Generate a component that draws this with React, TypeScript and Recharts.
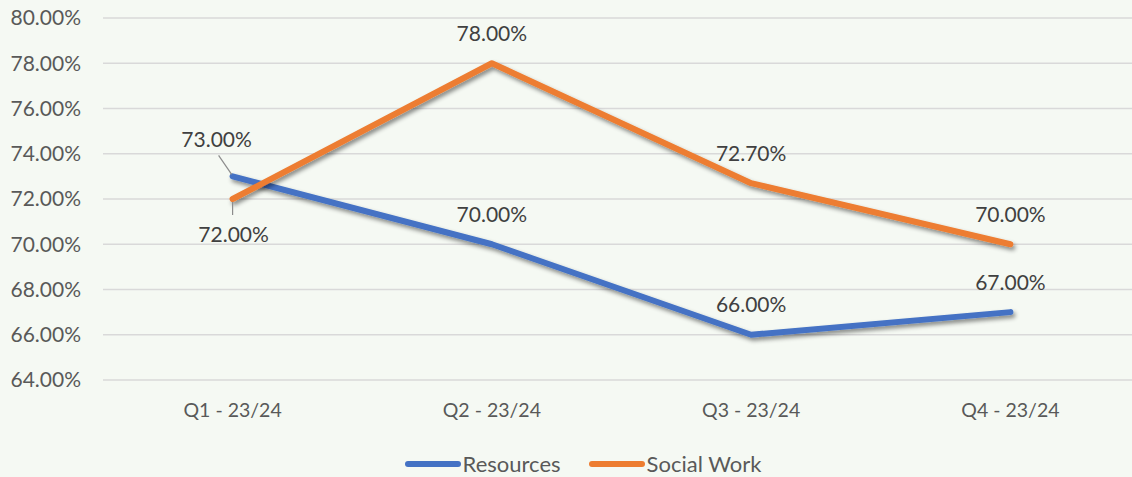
import React from 'react';
import { LineChart, Line, XAxis, YAxis, CartesianGrid, Legend, LabelList } from 'recharts';

const quarters = ['Q1 - 23/24', 'Q2 - 23/24', 'Q3 - 23/24', 'Q4 - 23/24'];
const resources = [73.0, 70.0, 66.0, 67.0];
const socialWork = [72.0, 78.0, 72.7, 70.0];
const yTicks = [64, 66, 68, 70, 72, 74, 76, 78, 80];

const BLUE = '#4472C4';
const ORANGE = '#ED7D31';
const FONT = 'Lato, "Open Sans", sans-serif';

const data = quarters.map((q, i) => ({ q, resources: resources[i], socialWork: socialWork[i] }));

const fmt = (v: number) => `${v.toFixed(2)}%`;

const ResourcesLabel = (props: any) => {
  const { x, y, value, index } = props;
  if (index === 0) {
    // first point gets a leader line up-left
    return (
      <g>
        <line x1={x - 1} y1={y - 2} x2={x - 14} y2={y - 21} stroke="#8c8c8c" strokeWidth={1.2} />
        <text x={x - 16} y={y - 38} textAnchor="middle" dominantBaseline="central" fill="#404040" fontSize={21} fontFamily={FONT}>
          {fmt(value)}
        </text>
      </g>
    );
  }
  return (
    <text x={x} y={y - 31} textAnchor="middle" dominantBaseline="central" fill="#404040" fontSize={21} fontFamily={FONT}>
      {fmt(value)}
    </text>
  );
};

const SocialLabel = (props: any) => {
  const { x, y, value, index } = props;
  if (index === 0) {
    return (
      <g>
        <line x1={x} y1={y + 3} x2={x} y2={y + 16} stroke="#8c8c8c" strokeWidth={1.2} />
        <text x={x + 1} y={y + 34} textAnchor="middle" dominantBaseline="central" fill="#404040" fontSize={21} fontFamily={FONT}>
          {fmt(value)}
        </text>
      </g>
    );
  }
  return (
    <text x={x} y={y - 31} textAnchor="middle" dominantBaseline="central" fill="#404040" fontSize={21} fontFamily={FONT}>
      {fmt(value)}
    </text>
  );
};

const LegendContent = () => (
  <div style={{ display: 'flex', justifyContent: 'center', alignItems: 'center', fontFamily: FONT, fontSize: 22, color: '#595959', lineHeight: '24px' }}>
    {[
      { name: 'Resources', color: BLUE },
      { name: 'Social Work', color: ORANGE },
    ].map((item, i) => (
      <div key={item.name} style={{ display: 'flex', alignItems: 'center', marginLeft: i ? 28 : 0 }}>
        <span style={{ display: 'inline-block', width: 56, height: 6, borderRadius: 3, background: item.color, marginRight: 2 }} />
        <span>{item.name}</span>
      </div>
    ))}
  </div>
);

export default function App() {
  return (
    <div style={{ position: 'fixed', left: 0, top: 0, width: 1132, height: 477, overflow: 'hidden', background: '#F5F9F3' }}>
      <LineChart width={1140} height={477} data={data} margin={{ top: 18, right: 0, bottom: 57, left: 0 }}>
        <defs>
          <filter id="lineShadow" x="-10%" y="-20%" width="120%" height="140%">
            <feDropShadow dx={2} dy={3} stdDeviation={2.2} floodColor="#000" floodOpacity={0.45} />
          </filter>
        </defs>
        <CartesianGrid vertical={false} stroke="#d9d9d9" strokeWidth={1.5} />
        <XAxis
          dataKey="q"
          axisLine={false}
          tickLine={false}
          tickSize={0}
          tickMargin={23}
          height={40}
          padding={{ left: 129.6, right: 129.6 }}
          tick={{ fill: '#595959', fontSize: 19.5, fontFamily: FONT }}
        />
        <YAxis
          domain={[64, 80]}
          ticks={yTicks}
          interval={0}
          axisLine={false}
          tickLine={false}
          tickSize={0}
          tickMargin={22}
          width={103}
          tickFormatter={(v: number) => fmt(v)}
          tick={{ fill: '#595959', fontSize: 21, fontFamily: FONT }}
        />
        <Legend
          layout="horizontal"
          verticalAlign="middle"
          align="center"
          wrapperStyle={{ top: 452, left: 17, width: 1132 }}
          content={<LegendContent />}
        />
        <Line
          type="linear"
          dataKey="resources"
          name="Resources"
          stroke={BLUE}
          strokeWidth={6}
          strokeLinecap="round"
          strokeLinejoin="round"
          dot={false}
          activeDot={false}
          filter="url(#lineShadow)"
          isAnimationActive={false}
        >
          <LabelList dataKey="resources" content={<ResourcesLabel />} />
        </Line>
        <Line
          type="linear"
          dataKey="socialWork"
          name="Social Work"
          stroke={ORANGE}
          strokeWidth={6}
          strokeLinecap="round"
          strokeLinejoin="round"
          dot={false}
          activeDot={false}
          filter="url(#lineShadow)"
          isAnimationActive={false}
        >
          <LabelList dataKey="socialWork" content={<SocialLabel />} />
        </Line>
      </LineChart>
    </div>
  );
}
